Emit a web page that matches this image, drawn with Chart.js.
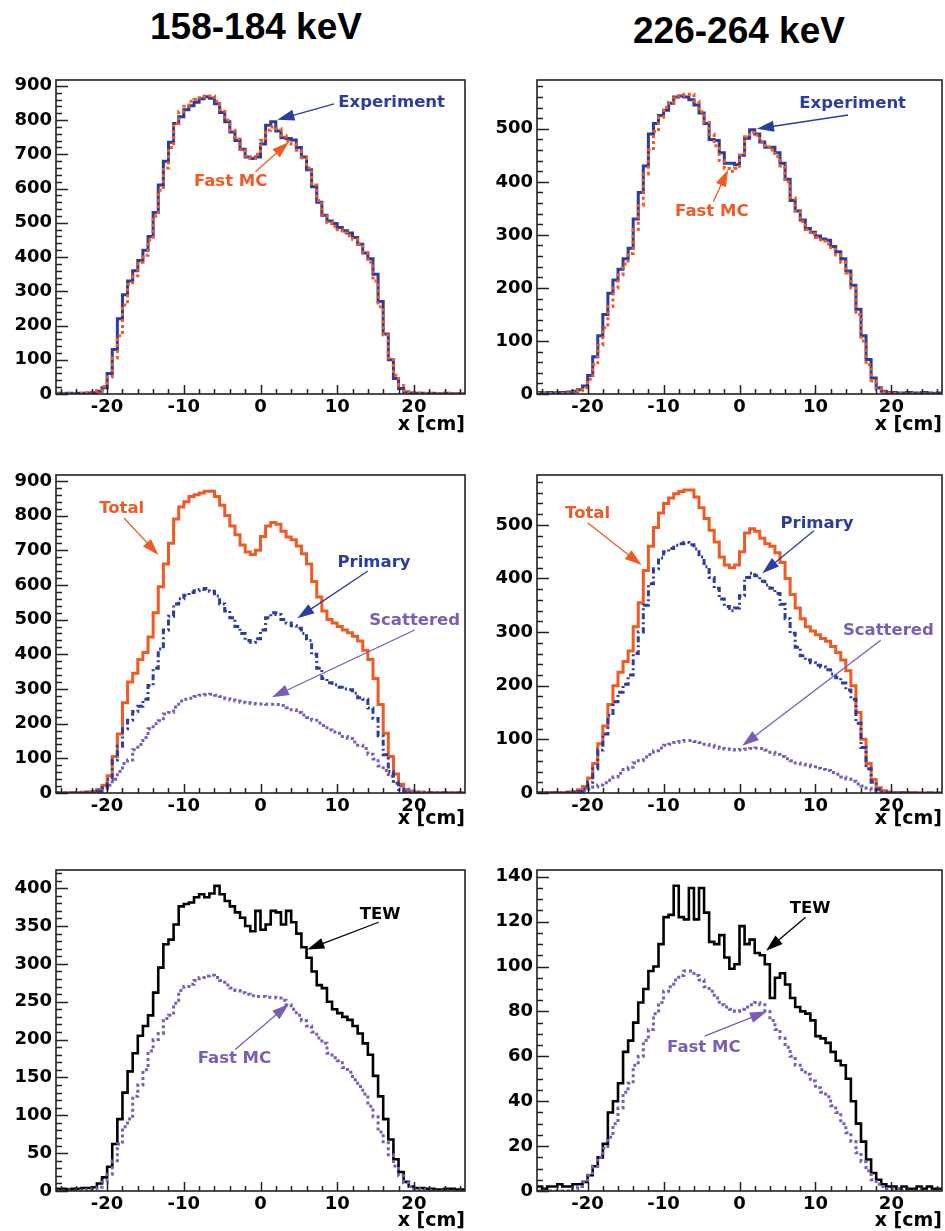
<!DOCTYPE html>
<html>
<head>
<meta charset="utf-8">
<script src="https://cdn.jsdelivr.net/npm/chart.js@4.4.1/dist/chart.umd.min.js"></script>
<style>
  html, body { margin: 0; padding: 0; background: #fff; }
  body { width: 945px; height: 1231px; position: relative; overflow: hidden; }
  .ttl {
    position: absolute; width: 400px; text-align: center; white-space: nowrap;
    font: bold 37px/37px 'Liberation Sans', Arial, sans-serif; color: #000;
  }
  canvas { position: absolute; }
</style>
</head>
<body>
<div class="ttl" style="left:56px;top:8px;">158-184 keV</div>
<div class="ttl" style="left:539px;top:12px;">226-264 keV</div>

<canvas id="tl" style="left:0px;top:70px;" width="470" height="369"></canvas>
<canvas id="tr" style="left:475px;top:70px;" width="470" height="369"></canvas>
<canvas id="ml" style="left:0px;top:465px;" width="470" height="373"></canvas>
<canvas id="mr" style="left:475px;top:465px;" width="470" height="373"></canvas>
<canvas id="bl" style="left:0px;top:860px;" width="470" height="371"></canvas>
<canvas id="br" style="left:475px;top:860px;" width="470" height="371"></canvas>

<script>
// histogram binning: 80 bins over -26.67 .. 26.67 cm
const BINS = 80;
const X_LO = -80 / 3;
const BIN_W = 2 / 3;

const xTicks = [-20, -10, 0, 10, 20];
const yTicks900 = [0, 100, 200, 300, 400, 500, 600, 700, 800, 900];
const yTicks500 = [0, 100, 200, 300, 400, 500];
const yTicks400 = [0, 50, 100, 150, 200, 250, 300, 350, 400];
const yTicks140 = [0, 20, 40, 60, 80, 100, 120, 140];

// 158-184 keV window
const exp158 = [2,1,2,1,2,2,3,4,8,18,
  60,130,220,290,330,360,390,420,460,530,
  610,680,735,790,810,830,842,852,862,868,
  864,848,822,795,765,740,715,692,688,692,
  730,785,795,768,748,746,742,720,692,655,
  605,560,522,505,498,486,477,470,457,437,
  412,395,350,270,175,100,45,16,6,3,
  2,2,1,2,1,1,2,1,1,1];
const mc158 = [1,1,1,1,1,2,3,5,10,22,
  50,105,170,260,320,345,385,405,450,520,
  595,660,720,790,825,840,855,860,865,870,
  870,855,830,800,770,745,715,695,688,700,
  740,770,780,775,755,738,730,712,690,660,
  610,565,525,500,490,480,470,462,452,438,
  412,385,330,255,172,105,55,25,10,5,
  3,2,1,1,1,1,1,1,1,1];
const prim158 = [0,0,0,0,0,1,1,2,5,15,
  40,95,135,185,210,235,250,270,310,360,
  415,470,510,545,560,570,578,583,587,590,
  582,568,545,525,505,480,460,440,435,445,
  470,505,520,515,500,490,482,475,460,440,
  400,360,330,318,312,305,300,298,288,275,
  270,245,215,165,110,62,28,10,3,1,
  0,0,0,0,0,0,0,0,0,0];
const scat158 = [0,0,0,0,1,1,2,3,5,12,
  22,40,62,85,95,125,140,160,185,200,
  208,228,232,248,265,270,273,278,282,284,
  285,282,278,272,268,265,262,260,258,257,
  257,256,256,255,252,246,240,232,225,218,
  210,202,195,182,176,172,163,157,147,138,
  128,112,98,78,65,48,33,20,11,6,
  3,2,1,1,0,0,0,0,0,0];
const tew158 = [3,3,2,3,3,4,4,5,10,18,
  32,62,95,130,158,182,205,218,232,262,
  295,326,332,352,376,379,381,388,392,388,
  393,403,392,383,376,368,361,350,343,370,
  345,352,370,368,352,370,355,340,322,308,
  290,272,268,250,240,235,230,226,218,208,
  195,180,152,125,95,68,42,25,12,6,
  4,4,3,3,2,2,3,3,2,2];

// 226-264 keV window
const exp226 = [3,2,3,2,3,3,4,5,8,15,
  35,70,110,150,190,215,235,255,275,330,
  380,430,490,510,525,535,548,560,562,560,
  555,545,530,510,480,478,455,435,435,432,
  450,482,498,490,475,465,465,455,435,405,
  365,345,328,312,305,298,292,290,278,268,
  255,232,205,160,110,65,30,12,5,3,
  3,2,2,3,2,2,3,2,1,2];
const mc226 = [1,1,1,1,1,1,2,3,6,12,
  28,55,92,125,165,200,225,245,265,310,
  355,415,460,495,522,540,550,558,562,565,
  565,552,532,512,490,468,440,425,420,425,
  450,485,493,488,475,465,460,448,430,400,
  370,345,325,310,302,295,288,283,273,262,
  248,228,200,150,100,55,25,10,4,2,
  1,1,1,1,0,0,0,0,0,0];
const prim226 = [0,0,0,0,0,0,1,1,3,8,
  20,45,80,110,145,170,188,203,220,260,
  300,350,390,418,438,450,456,462,465,467,
  463,455,440,422,402,382,362,348,340,345,
  368,402,410,405,395,388,382,372,352,325,
  298,272,256,248,243,238,235,230,222,215,
  205,192,175,130,85,45,20,7,2,0,
  0,0,0,0,0,0,0,0,0,0];
const scat226 = [0,0,0,0,0,0,0,1,2,4,
  7,11,15,19,24,30,37,44,48,56,
  60,67,72,79,84,89,91,94,96,98,
  98,96,94,91,89,86,83,82,81,80,
  81,82,83,84,83,80,76,72,68,64,
  60,56,54,52,49,46,44,42,38,35,
  30,26,22,17,13,9,5,3,2,1,
  1,1,0,0,0,0,0,0,0,0];
const tew226 = [2,1,2,2,3,2,2,3,3,4,
  7,11,15,21,35,40,48,62,67,75,
  84,90,98,100,110,122,123,136,122,121,
  135,121,135,124,111,110,114,104,99,101,
  118,110,112,106,105,101,86,95,97,92,
  86,82,80,79,76,69,68,66,62,58,
  56,50,40,30,22,14,8,5,3,2,
  2,1,2,1,1,2,1,2,1,1];

const BLUE = '#2b3d9d';
const ORANGE = '#f05a24';
const PURPLE = '#7b5db5';
const BLACK = '#000000';

const edges = Array.from({ length: BINS + 1 }, (_, i) => X_LO + i * BIN_W);

// step outline: each bin value held from its low edge to the next edge
function hist(values) {
  const pts = values.map((v, i) => ({ x: edges[i], y: v }));
  pts.push({ x: edges[BINS], y: values[BINS - 1] });
  return pts;
}

function line(values, color, dash, width) {
  return {
    data: hist(values),
    stepped: true,
    borderColor: color,
    borderWidth: width || 3,
    borderDash: dash || [],
    borderCapStyle: 'butt',
    borderJoinStyle: 'miter',
    pointRadius: 0,
    fill: false
  };
}

const DOT = [3, 3];
const DASHDOT = [6, 3, 2, 3];

const frameTicks = {
  id: 'frameTicks',
  afterDatasetsDraw(chart, args, o) {
    const { ctx, chartArea: a, scales: { x, y } } = chart;
    ctx.save();
    ctx.strokeStyle = '#222';
    ctx.lineWidth = 1.5;
    ctx.beginPath();
    for (let v = 0; v <= y.max; v += o.yMinor) {
      const py = Math.round(y.getPixelForValue(v)) + 0.5;
      const major = Math.abs(v % o.yMajor) < 1e-6;
      ctx.moveTo(a.left, py);
      ctx.lineTo(a.left + (major ? 12 : 6), py);
    }
    for (let v = -26; v <= 26; v += 2) {
      const px = Math.round(x.getPixelForValue(v)) + 0.5;
      const major = v % 10 === 0;
      ctx.moveTo(px, a.bottom);
      ctx.lineTo(px, a.bottom - (major ? 9 : 5));
    }
    ctx.stroke();
    ctx.lineWidth = 1.6;
    ctx.strokeRect(a.left, a.top, a.width, a.height);
    ctx.restore();
  }
};

const notes = {
  id: 'notes',
  afterDraw(chart, args, o) {
    const { ctx, scales: { x, y } } = chart;
    ctx.save();
    ctx.font = 'bold 16.5px "DejaVu Sans", sans-serif';
    ctx.textAlign = 'center';
    ctx.textBaseline = 'middle';
    o.list.forEach(n => {
      ctx.fillStyle = n.color;
      ctx.strokeStyle = n.color;
      ctx.fillText(n.text, x.getPixelForValue(n.at[0]), y.getPixelForValue(n.at[1]));
      const x0 = x.getPixelForValue(n.from[0]), y0 = y.getPixelForValue(n.from[1]);
      const x1 = x.getPixelForValue(n.to[0]), y1 = y.getPixelForValue(n.to[1]);
      const ang = Math.atan2(y1 - y0, x1 - x0);
      const hl = 17, hw = 5.5;
      ctx.lineWidth = 1.3;
      ctx.beginPath();
      ctx.moveTo(x0, y0);
      ctx.lineTo(x1 - Math.cos(ang) * hl * 0.8, y1 - Math.sin(ang) * hl * 0.8);
      ctx.stroke();
      ctx.beginPath();
      ctx.moveTo(x1, y1);
      ctx.lineTo(x1 - Math.cos(ang) * hl - Math.sin(ang) * hw, y1 - Math.sin(ang) * hl + Math.cos(ang) * hw);
      ctx.lineTo(x1 - Math.cos(ang) * hl + Math.sin(ang) * hw, y1 - Math.sin(ang) * hl - Math.cos(ang) * hw);
      ctx.closePath();
      ctx.fill();
    });
    ctx.restore();
  }
};

const tickFont = { family: '"DejaVu Sans", sans-serif', size: 18, weight: 'bold' };

function makePanel(id, cfg) {
  new Chart(document.getElementById(id), {
    type: 'line',
    data: { datasets: cfg.datasets },
    options: {
      responsive: false,
      animation: false,
      layout: { padding: { top: 10, right: cfg.padR, left: 0, bottom: 0 } },
      plugins: {
        legend: { display: false },
        tooltip: { enabled: false },
        frameTicks: { yMajor: cfg.yMajor, yMinor: cfg.yMinor },
        notes: { list: cfg.notes }
      },
      scales: {
        x: {
          type: 'linear',
          min: X_LO,
          max: -X_LO,
          grid: { display: false, drawTicks: false },
          border: { display: false },
          afterBuildTicks: s => { s.ticks = xTicks.map(v => ({ value: v })); },
          afterFit: s => { s.height = cfg.xH; s.paddingLeft = 0; s.paddingRight = 0; },
          ticks: { font: tickFont, color: '#000', padding: 3, maxRotation: 0, autoSkip: false },
          title: {
            display: true, text: 'x [cm]', align: 'end', color: '#000',
            font: { family: '"DejaVu Sans", sans-serif', size: 19, weight: 'bold', lineHeight: 1 },
            padding: { top: 0, bottom: cfg.titlePad }
          }
        },
        y: {
          type: 'linear',
          min: 0,
          max: cfg.yMax,
          grid: { display: false, drawTicks: false },
          border: { display: false },
          afterBuildTicks: s => { s.ticks = cfg.yTicks.map(v => ({ value: v })); },
          afterFit: s => { s.width = cfg.yW; s.paddingTop = 0; s.paddingBottom = 0; },
          ticks: { font: tickFont, color: '#000', padding: 4, autoSkip: false }
        }
      }
    },
    plugins: [frameTicks, notes]
  });
}

const LEFT = { yW: 56, padR: 5 };
const RIGHT = { yW: 62, padR: 3 };

makePanel('tl', Object.assign({}, LEFT, {
  xH: 45, titlePad: 4.5, yMax: 917, yTicks: yTicks900, yMajor: 100, yMinor: 20,
  datasets: [line(mc158, ORANGE, DOT), line(exp158, BLUE)],
  notes: [
    { text: 'Experiment', color: BLUE, at: [17.1, 850], from: [9.6, 847], to: [2.2, 801] },
    { text: 'Fast MC', color: ORANGE, at: [-3.9, 620], from: [-0.66, 649], to: [3.7, 736] }
  ]
}));

makePanel('tr', Object.assign({}, RIGHT, {
  xH: 45, titlePad: 4.5, yMax: 592, yTicks: yTicks500, yMajor: 100, yMinor: 20,
  datasets: [line(mc226, ORANGE, DOT), line(exp226, BLUE)],
  notes: [
    { text: 'Experiment', color: BLUE, at: [14.9, 547], from: [14.3, 526], to: [2.3, 500] },
    { text: 'Fast MC', color: ORANGE, at: [-3.65, 344], from: [-3.45, 363], to: [-1.5, 423] }
  ]
}));

makePanel('ml', Object.assign({}, LEFT, {
  xH: 45, titlePad: 9.5, yMax: 917, yTicks: yTicks900, yMajor: 100, yMinor: 20,
  datasets: [line(prim158, BLUE, DASHDOT), line(scat158, PURPLE, DOT), line(mc158, ORANGE)],
  notes: [
    { text: 'Total', color: ORANGE, at: [-18.1, 819], from: [-17.8, 793], to: [-13.3, 686] },
    { text: 'Primary', color: BLUE, at: [14.8, 663], from: [14.0, 640], to: [4.8, 504] },
    { text: 'Scattered', color: PURPLE, at: [20.1, 496], from: [20.1, 470], to: [1.5, 276] }
  ]
}));

makePanel('mr', Object.assign({}, RIGHT, {
  xH: 45, titlePad: 9.5, yMax: 593, yTicks: yTicks500, yMajor: 100, yMinor: 20,
  datasets: [line(prim226, BLUE, DASHDOT), line(scat226, PURPLE, DOT), line(mc226, ORANGE)],
  notes: [
    { text: 'Total', color: ORANGE, at: [-20.0, 521], from: [-20.0, 504], to: [-12.9, 425] },
    { text: 'Primary', color: BLUE, at: [10.2, 502], from: [9.8, 489], to: [3.0, 410] },
    { text: 'Scattered', color: PURPLE, at: [19.6, 302], from: [18.6, 285], to: [0.35, 88] }
  ]
}));

makePanel('bl', Object.assign({}, LEFT, {
  xH: 40, titlePad: 0, yMax: 424, yTicks: yTicks400, yMajor: 50, yMinor: 10,
  datasets: [line(scat158, PURPLE, DOT), line(tew158, BLACK, [], 2.6)],
  notes: [
    { text: 'TEW', color: BLACK, at: [15.6, 365], from: [15.4, 355], to: [6.1, 319] },
    { text: 'Fast MC', color: PURPLE, at: [-3.4, 175], from: [-3.3, 187], to: [3.7, 247] }
  ]
}));

makePanel('br', Object.assign({}, RIGHT, {
  xH: 40, titlePad: 0, yMax: 143, yTicks: yTicks140, yMajor: 20, yMinor: 5,
  datasets: [line(scat226, PURPLE, DOT), line(tew226, BLACK, [], 2.6)],
  notes: [
    { text: 'TEW', color: BLACK, at: [9.3, 125.7], from: [8.7, 122], to: [3.5, 107] },
    { text: 'Fast MC', color: PURPLE, at: [-4.7, 64], from: [-4.6, 69], to: [3.6, 80] }
  ]
}));
</script>
</body>
</html>
